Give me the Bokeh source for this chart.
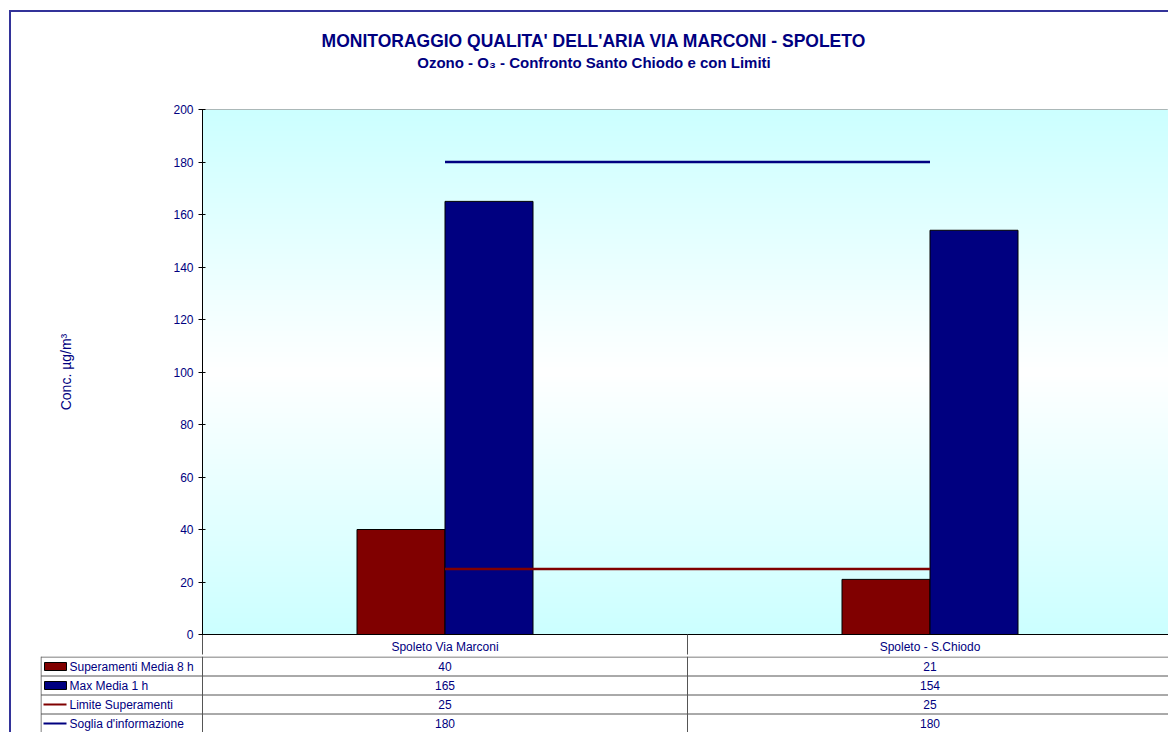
import numpy as np
from bokeh.plotting import figure
from bokeh.models import Range1d, FixedTicker
from bokeh.layouts import column
from bokeh.embed import file_html
from bokeh.resources import INLINE
from bokeh.core.properties import value

# ---------------- data ----------------
categories = ["Spoleto Via Marconi", "Spoleto - S.Chiodo"]
superamenti_media_8h = [40, 21]
max_media_1h = [165, 154]
limite_superamenti = [25, 25]
soglia_informazione = [180, 180]
series_names = ["Superamenti Media 8 h", "Max Media 1 h",
                "Limite Superamenti", "Soglia d'informazione"]
y_ticks = [0, 20, 40, 60, 80, 100, 120, 140, 160, 180, 200]

title_main = "MONITORAGGIO QUALITA' DELL'ARIA  VIA MARCONI - SPOLETO"
title_sub = "Ozono - O\u2083 - Confronto Santo Chiodo e con Limiti"
y_label = "Conc. \u00b5g/m\u00b3"

# ---------------- style ----------------
FONT = "Liberation Sans"
NAVY = "#000080"
DRED = "#800000"
TXT = "#000080"
GRID = "#555555"

W = 1157            # width of every figure
FRAME_W = 966       # visible plot-area width
CAT_W = 485.0       # pixel width of one category slot
BAR_W = 88 / CAT_W

xs = np.arange(len(categories))  # category centres

# ---------------- title figure ----------------
H0 = 70
t0 = figure(width=W, height=H0, x_range=Range1d(0, W), y_range=Range1d(H0, 0),
            output_backend="svg", toolbar_location=None, min_border=0)
t0.frame_align = False
t0.axis.visible = False
t0.grid.visible = False
t0.outline_line_color = None
t0.background_fill_color = "white"
t0.border_fill_color = "white"
t0.text(x=[585], y=[28.5], text=[title_main], text_font=value(FONT),
        text_font_size="17.5px", text_font_style="bold", text_color=NAVY,
        text_align="center", text_baseline="alphabetic")
t0.text(x=[582.5], y=[49.5], text=[title_sub], text_font=value(FONT),
        text_font_size="15px", text_font_style="bold", text_color=NAVY,
        text_align="center", text_baseline="alphabetic")

# ---------------- chart figure ----------------
p = figure(width=W, height=574,
           x_range=Range1d(-0.5, -0.5 + FRAME_W / CAT_W),
           y_range=Range1d(0, 200), output_backend="svg", toolbar_location=None,
           min_border_left=191, min_border_right=0, min_border_top=27,
           min_border_bottom=20)
p.frame_align = False
p.background_fill_color = "white"
p.border_fill_color = "white"
p.outline_line_color = "#A0A0A0"
p.xgrid.visible = False
p.ygrid.visible = False

# gradient background (cyan - white - cyan)
n = 527
t = np.abs(np.linspace(-1.0, 1.0, n))
img = np.empty((n, 1), dtype=np.uint32)
view = img.view(dtype=np.uint8).reshape((n, 1, 4))
view[:, 0, 0] = (255 + (204 - 255) * t).astype(np.uint8)
view[:, 0, 1] = 255
view[:, 0, 2] = 255
view[:, 0, 3] = 255
p.image_rgba(image=[img], x=-0.5, y=0, dw=len(categories), dh=200)

p.vbar(x=xs - BAR_W / 2, top=superamenti_media_8h, width=BAR_W,
       fill_color=DRED, line_color="black", line_width=1)
p.vbar(x=xs + BAR_W / 2, top=max_media_1h, width=BAR_W,
       fill_color=NAVY, line_color="black", line_width=1)
p.line(x=xs, y=limite_superamenti, line_color=DRED, line_width=2.5)
p.line(x=xs, y=soglia_informazione, line_color=NAVY, line_width=2.5)

# y axis
ya = p.yaxis[0]
ya.ticker = FixedTicker(ticks=y_ticks)
ya.axis_line_color = "black"
ya.major_tick_line_color = "black"
ya.major_tick_out = 4
ya.major_tick_in = 3
ya.minor_tick_line_color = None
ya.major_label_text_font = FONT
ya.major_label_text_font_size = "12px"
ya.major_label_text_color = TXT
ya.axis_label = y_label
ya.axis_label_text_font = FONT
ya.axis_label_text_font_size = "14px"
ya.axis_label_text_font_style = "normal"
ya.axis_label_text_color = TXT
ya.axis_label_standoff = 96

# x axis: category labels (header row of the data table)
xa = p.xaxis[0]
boundaries = [c - 0.5 for c in range(len(categories) + 1)]
xa.ticker = FixedTicker(ticks=list(xs), minor_ticks=boundaries)
xa.major_label_overrides = {int(i): c for i, c in zip(xs, categories)}
xa.axis_line_color = "black"
xa.major_tick_line_color = None
xa.major_tick_out = 0
xa.major_tick_in = 0
xa.minor_tick_line_color = GRID
xa.minor_tick_out = 20
xa.minor_tick_in = 0
xa.major_label_standoff = -15
xa.major_label_text_font = FONT
xa.major_label_text_font_size = "12px"
xa.major_label_text_color = TXT

# ---------------- data table figure ----------------
LEG = 162.0
ROW = 19.0
H2 = 76
t2 = figure(width=W, height=H2, x_range=Range1d(0, W - 29),
            y_range=Range1d(H2, 0), output_backend="svg", toolbar_location=None,
            min_border_left=29, min_border_right=0, min_border_top=0,
            min_border_bottom=0)
t2.frame_align = False
t2.axis.visible = False
t2.grid.visible = False
t2.outline_line_color = None
t2.background_fill_color = "white"
t2.border_fill_color = "white"

nrows = len(series_names)
row_edges = [0.5 + ROW * r for r in range(nrows + 1)]
row_mid = [ROW * r + ROW / 2 + 0.5 for r in range(nrows)]
x_right = LEG + CAT_W * len(categories)

# grid lines
t2.segment(x0=[0.5] * len(row_edges), y0=row_edges, x1=[x_right] * len(row_edges),
           y1=row_edges, line_color=GRID, line_width=1)
vx = [0.5, LEG] + [LEG + CAT_W * (i + 1) for i in range(len(categories))]
t2.segment(x0=vx, y0=[0] * len(vx), x1=vx, y1=[H2] * len(vx),
           line_color=GRID, line_width=1)

# legend swatches
t2.quad(left=[4, 4], right=[26, 26], top=[row_mid[0] - 4, row_mid[1] - 4],
        bottom=[row_mid[0] + 4, row_mid[1] + 4], fill_color=[DRED, NAVY],
        line_color="black", line_width=1)
t2.segment(x0=[3, 3], y0=[row_mid[2], row_mid[3]], x1=[26, 26],
           y1=[row_mid[2], row_mid[3]], line_color=[DRED, NAVY], line_width=2)
t2.text(x=[29] * nrows, y=row_mid, text=series_names, text_font=value(FONT),
        text_font_size="12px", text_color=TXT, text_align="left",
        text_baseline="middle")

# values
all_series = [superamenti_media_8h, max_media_1h, limite_superamenti, soglia_informazione]
vx_txt, vy_txt, vtxt = [], [], []
for r, ser in enumerate(all_series):
    for i, v in enumerate(ser):
        vx_txt.append(LEG + CAT_W * (i + 0.5))
        vy_txt.append(row_mid[r])
        vtxt.append(str(v))
t2.text(x=vx_txt, y=vy_txt, text=vtxt, text_font=value(FONT),
        text_font_size="12px", text_color=TXT, text_align="center",
        text_baseline="middle")

layout = column(t0, p, t2, spacing=0, margin=(10, 0, 0, 9),
                styles={"border-top": "2px solid #333399",
                        "border-left": "2px solid #333399"})

open("out.html", "w").write(file_html(layout, INLINE))
